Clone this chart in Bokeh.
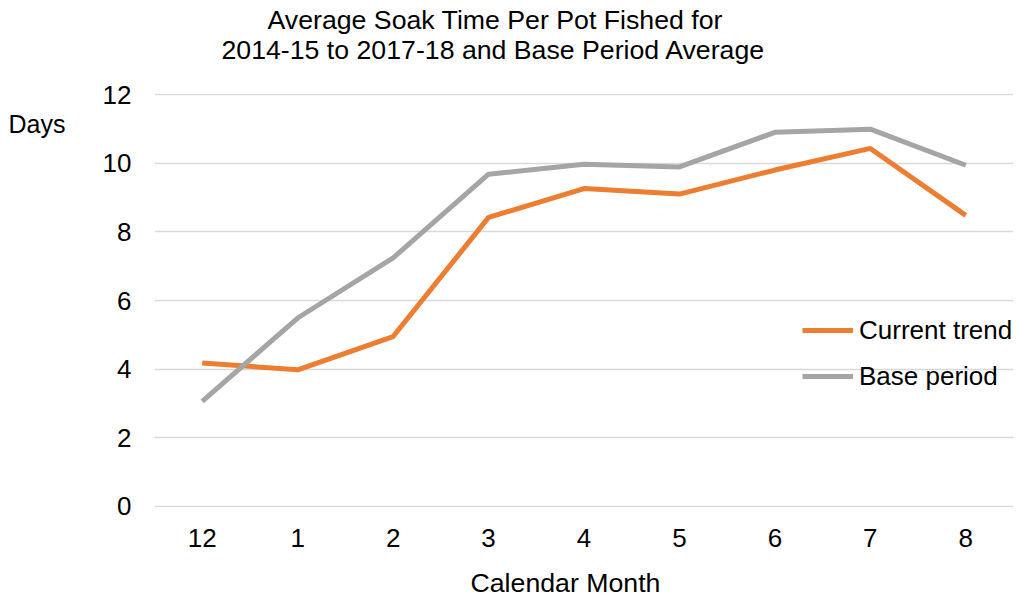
from bokeh.plotting import figure
from bokeh.models import FixedTicker, Legend, LegendItem, Title, LinearAxis
from bokeh.embed import file_html
from bokeh.resources import INLINE

months = ["12", "1", "2", "3", "4", "5", "6", "7", "8"]
current_trend = [4.18, 3.98, 4.95, 8.42, 9.26, 9.10, 9.80, 10.43, 8.48]
base_period = [3.06, 5.49, 7.24, 9.68, 9.97, 9.89, 10.90, 10.99, 9.94]
y_ticks = [0, 2, 4, 6, 8, 10, 12]

title_lines = ["Average Soak Time Per Pot Fished for",
               "2014-15 to 2017-18 and Base Period Average"]
y_label = "Days"
x_label = "Calendar Month"

FONT = "Liberation Sans"
ORANGE = "#ED7D31"
GREY = "#A5A5A5"
TXT = "#000000"

p = figure(x_range=months, y_range=(-0.03, 12.03), width=1021, height=599,
           output_backend="svg", toolbar_location=None,
           min_border_left=154, min_border_right=8,
           min_border_top=93, min_border_bottom=92)
p.x_range.range_padding = 0
p.outline_line_color = None
p.background_fill_color = "white"
p.border_fill_color = "white"

p.xgrid.grid_line_color = None
p.ygrid.grid_line_color = "#D9D9D9"
p.ygrid.grid_line_width = 1.5
p.yaxis.ticker = FixedTicker(ticks=y_ticks)

for ax in (p.xaxis[0], p.yaxis[0]):
    ax.axis_line_color = None
    ax.major_tick_line_color = None
    ax.minor_tick_line_color = None
    ax.major_tick_out = 0
    ax.major_tick_in = 0
    ax.minor_tick_out = 0
    ax.minor_tick_in = 0
    ax.major_label_text_font = FONT
    ax.major_label_text_font_size = "26px"
    ax.major_label_text_color = TXT
p.yaxis[0].major_label_standoff = 23
p.xaxis[0].major_label_standoff = 21

# "Days" label placed as an outer left axis label
days_axis = LinearAxis(ticker=FixedTicker(ticks=[11.15]),
                       major_label_overrides={11.15: y_label},
                       axis_line_color=None, major_tick_line_color=None,
                       minor_tick_line_color=None, major_tick_out=0, major_tick_in=0,
                       minor_tick_out=0, minor_tick_in=0, major_label_standoff=34,
                       major_label_text_font=FONT, major_label_text_font_size="25px",
                       major_label_text_color=TXT)
p.add_layout(days_axis, "left")

r1 = p.line(months, current_trend, line_color=ORANGE, line_width=5)
r2 = p.line(months, base_period, line_color=GREY, line_width=5)

legend = Legend(items=[LegendItem(label="Current trend", renderers=[r1]),
                       LegendItem(label="Base period", renderers=[r2])],
                location=(648, 111), orientation="vertical",
                glyph_width=51, glyph_height=40, label_height=40,
                label_standoff=6, spacing=6, padding=0, margin=0,
                border_line_color=None, background_fill_alpha=0,
                label_text_font=FONT, label_text_font_size="26px",
                label_text_color=TXT)
p.add_layout(legend, "center")

def title(text, offset, size="26.7px", standoff=0):
    return Title(text=text, align="left", offset=offset, standoff=standoff,
                 text_font=FONT, text_font_size=size, text_font_style="normal",
                 text_line_height=1.0, text_color=TXT)

# spacer + two title lines above the plot (first added = closest to frame)
p.add_layout(title(" ", 0, size="10px", standoff=17), "above")
p.add_layout(title(title_lines[1], 67, standoff=-3.1), "above")
p.add_layout(title(title_lines[0], 113), "above")
# spacer + x label below the axis
p.add_layout(title(" ", 0, size="5px", standoff=8), "below")
p.add_layout(title(x_label, 316), "below")

open("out.html", "w").write(file_html(p, INLINE))
